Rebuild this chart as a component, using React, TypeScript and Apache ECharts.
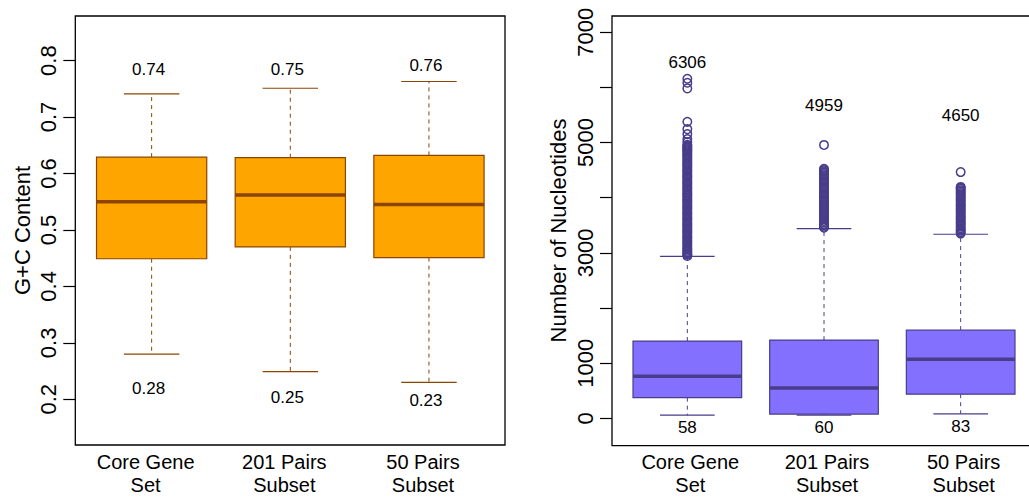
import React, { useEffect, useRef } from "react";
import * as echarts from "echarts";

// ---------- data ----------
const categories = ["Core Gene\nSet", "201 Pairs\nSubset", "50 Pairs\nSubset"];

// G+C content: [min whisker, Q1, median, Q3, max whisker]
const gcLow = [0.28, 0.249, 0.23];
const gcQ1 = [0.449, 0.47, 0.451];
const gcMedian = [0.55, 0.562, 0.545];
const gcQ3 = [0.629, 0.628, 0.632];
const gcHigh = [0.741, 0.751, 0.763];
const gcMaxLabels = ["0.74", "0.75", "0.76"];
const gcMinLabels = ["0.28", "0.25", "0.23"];
const gcTicks = [0.2, 0.3, 0.4, 0.5, 0.6, 0.7, 0.8];

// Number of nucleotides
const ntLow = [58, 60, 83];
const ntQ1 = [377, 79, 439];
const ntMedian = [762, 552, 1073];
const ntQ3 = [1402, 1420, 1600];
const ntHigh = [2937, 3440, 3338];
const ntMaxLabels = ["6306", "4959", "4650"];
const ntMinLabels = ["58", "60", "83"];
const ntTicks = [0, 1000, 2000, 3000, 4000, 5000, 6000, 7000];
const ntTickLabels = [0, 1000, 3000, 5000, 7000];

const coreOutliers = [
  2945, 2970, 2990, 3015, 3040, 3065, 3090, 3120, 3150, 3175, 3200, 3230, 3260,
  3285, 3310, 3340, 3370, 3395, 3420, 3450, 3480, 3505, 3530, 3560, 3590, 3615,
  3640, 3670, 3700, 3725, 3750, 3780, 3810, 3835, 3860, 3890, 3920, 3945, 3970,
  4000, 4030, 4055, 4080, 4110, 4140, 4165, 4190, 4220, 4250, 4275, 4300, 4330,
  4360, 4385, 4410, 4440, 4470, 4495, 4520, 4550, 4580, 4605, 4630, 4660, 4690,
  4715, 4740, 4770, 4790, 4815, 4840, 4860, 4880, 4900, 4920, 4940, 4960, 5010,
  5063, 5153, 5243, 5375, 5981, 6083, 6155,
];
const pairs201Outliers = [
  3455, 3475, 3500, 3525, 3550, 3580, 3610, 3635, 3660, 3690, 3720, 3745, 3770,
  3800, 3830, 3855, 3880, 3910, 3940, 3965, 3990, 4020, 4050, 4075, 4100, 4130,
  4160, 4185, 4210, 4240, 4270, 4295, 4320, 4350, 4380, 4405, 4430, 4455, 4480,
  4500, 4524, 4956,
];
const pairs50Outliers = [
  3350, 3375, 3400, 3425, 3450, 3480, 3510, 3535, 3560, 3590, 3620, 3645, 3670,
  3700, 3730, 3755, 3780, 3810, 3840, 3865, 3890, 3920, 3950, 3975, 4000, 4030,
  4060, 4085, 4110, 4135, 4160, 4180, 4195, 4465,
];

// annotation anchor heights (data units)
const gcMaxLabelY = [0.785, 0.785, 0.791];
const gcMinLabelY = [0.219, 0.203, 0.197];
const ntMaxLabelY = [6443, 5675, 5483];
const ntMinLabelY = [-167, -167, -149];

const FONT = "Liberation Sans, Arial, Helvetica, sans-serif";

function makeBoxSeries(
  gridIdx: number,
  low: number[],
  q1: number[],
  med: number[],
  q3: number[],
  high: number[],
  maxLabels: string[],
  minLabels: string[],
  maxY: number[],
  minY: number[],
  fill: string,
  stroke: string,
  labelDx: number
) {
  const data = low.map((_, i) => [i, low[i], q1[i], med[i], q3[i], high[i], maxY[i], minY[i]]);
  return {
    type: "custom",
    xAxisIndex: gridIdx,
    yAxisIndex: gridIdx,
    data,
    encode: { x: 0, y: [1, 2, 3, 4, 5] },
    renderItem: (params: any, api: any) => {
      const i = api.value(0);
      const band = api.size([1, 0])[0];
      const boxW = band * 0.795;
      const capW = band * 0.4;
      const pLow = api.coord([i, api.value(1)]);
      const pQ1 = api.coord([i, api.value(2)]);
      const pMed = api.coord([i, api.value(3)]);
      const pQ3 = api.coord([i, api.value(4)]);
      const pHigh = api.coord([i, api.value(5)]);
      const pMaxL = api.coord([i, api.value(6)]);
      const pMinL = api.coord([i, api.value(7)]);
      const cx = pMed[0];
      const dash = { stroke, lineWidth: 1, lineDash: [4, 4] };
      const solid = { stroke, lineWidth: 1.2 };
      return {
        type: "group",
        children: [
          { type: "line", shape: { x1: cx, y1: pQ3[1], x2: cx, y2: pHigh[1] }, style: dash },
          { type: "line", shape: { x1: cx, y1: pQ1[1], x2: cx, y2: pLow[1] }, style: dash },
          { type: "line", shape: { x1: cx - capW / 2, y1: pHigh[1], x2: cx + capW / 2, y2: pHigh[1] }, style: solid },
          { type: "line", shape: { x1: cx - capW / 2, y1: pLow[1], x2: cx + capW / 2, y2: pLow[1] }, style: solid },
          {
            type: "rect",
            shape: { x: cx - boxW / 2, y: pQ3[1], width: boxW, height: pQ1[1] - pQ3[1] },
            style: { fill, stroke, lineWidth: 1.2 },
          },
          {
            type: "line",
            shape: { x1: cx - boxW / 2, y1: pMed[1], x2: cx + boxW / 2, y2: pMed[1] },
            style: { stroke, lineWidth: 3.5 },
          },
          {
            type: "text",
            x: cx + labelDx,
            y: pMaxL[1],
            style: { text: maxLabels[i], fill: "#000", fontSize: 17, fontFamily: FONT, align: "center", verticalAlign: "middle" },
          },
          {
            type: "text",
            x: cx + labelDx,
            y: pMinL[1],
            style: { text: minLabels[i], fill: "#000", fontSize: 17, fontFamily: FONT, align: "center", verticalAlign: "middle" },
          },
        ],
      };
    },
  };
}

export default function App() {
  const ref = useRef<HTMLDivElement>(null);
  useEffect(() => {
    if (!ref.current) return;
    const chart = echarts.init(ref.current, undefined, { renderer: "svg" });
    const purpleFill = "#8470FF";
    const purpleStroke = "#483D8B";
    const orangeFill = "#FFA500";
    const orangeStroke = "#8B4500";

    const outlierData: number[][] = [];
    [coreOutliers, pairs201Outliers, pairs50Outliers].forEach((arr, i) =>
      arr.forEach((v) => outlierData.push([i, v]))
    );

    const xAxisCommon = {
      type: "category",
      data: categories,
      boundaryGap: true,
      axisLine: { show: false },
      axisTick: { show: false },
      splitLine: { show: false },
    };
    const yAxisCommon = {
      type: "value",
      offset: 7,
      axisLine: { show: false },
      splitLine: { show: false },
      axisTick: { show: true, length: 12, lineStyle: { color: "#000", width: 1.2 } },
    };

    chart.setOption({
      animation: false,
      backgroundColor: "#fff",
      grid: [
        { left: 82.3, width: 416, top: 16, height: 429 },
        { left: 619, width: 410.4, top: 16, height: 429.7 },
      ],
      xAxis: [
        {
          ...xAxisCommon,
          gridIndex: 0,
          axisLabel: { color: "#000", fontSize: 20, lineHeight: 23.4, fontFamily: FONT, margin: 8, padding: [0, 12, 0, 0] },
        },
        {
          ...xAxisCommon,
          gridIndex: 1,
          axisLabel: { color: "#000", fontSize: 20, lineHeight: 23.4, fontFamily: FONT, margin: 8, padding: [0, 0, 0, 6] },
        },
      ],
      yAxis: [
        {
          ...yAxisCommon,
          gridIndex: 0,
          min: 0.124,
          max: 0.879,
          axisTick: { ...yAxisCommon.axisTick, customValues: gcTicks },
          axisLabel: {
            customValues: gcTicks,
            rotate: 90,
            color: "#000",
            fontSize: 22,
            fontFamily: FONT,
            margin: 16,
            formatter: (v: number) => String(Math.round(v * 10) / 10),
          },
        },
        {
          ...yAxisCommon,
          gridIndex: 1,
          min: -431,
          max: 7293,
          axisTick: { ...yAxisCommon.axisTick, customValues: ntTicks },
          axisLabel: {
            customValues: ntTickLabels,
            rotate: 90,
            color: "#000",
            fontSize: 22,
            fontFamily: FONT,
            margin: 16,
            formatter: (v: number) => String(Math.round(v)),
          },
        },
      ],
      graphic: [
        {
          type: "rect",
          shape: { x: 75.3, y: 16, width: 429.7, height: 429 },
          style: { fill: "none", stroke: "#000", lineWidth: 1.3 },
          z: 10,
        },
        {
          type: "rect",
          shape: { x: 612, y: 16, width: 424, height: 429.7 },
          style: { fill: "none", stroke: "#000", lineWidth: 1.3 },
          z: 10,
        },
        {
          type: "text",
          x: 22.5,
          y: 230.5,
          rotation: Math.PI / 2,
          style: { text: "G+C Content", fill: "#000", fontSize: 22, fontFamily: FONT, align: "center", verticalAlign: "middle" },
        },
        {
          type: "text",
          x: 558.3,
          y: 230.5,
          rotation: Math.PI / 2,
          style: { text: "Number of Nucleotides", fill: "#000", fontSize: 22, fontFamily: FONT, align: "center", verticalAlign: "middle" },
        },
      ],
      series: [
        makeBoxSeries(0, gcLow, gcQ1, gcMedian, gcQ3, gcHigh, gcMaxLabels, gcMinLabels, gcMaxLabelY, gcMinLabelY, orangeFill, orangeStroke, -3),
        makeBoxSeries(1, ntLow, ntQ1, ntMedian, ntQ3, ntHigh, ntMaxLabels, ntMinLabels, ntMaxLabelY, ntMinLabelY, purpleFill, purpleStroke, 0),
        {
          type: "scatter",
          xAxisIndex: 1,
          yAxisIndex: 1,
          data: outlierData,
          symbol: "circle",
          symbolSize: 8.5,
          itemStyle: { color: "rgba(0,0,0,0)", borderColor: purpleStroke, borderWidth: 1.5, opacity: 1 },
        },
      ],
    });
    return () => chart.dispose();
  }, []);
  return (
    <div
      ref={ref}
      style={{ position: "fixed", left: 0, top: 0, width: 1029, height: 497, background: "#fff" }}
    />
  );
}
